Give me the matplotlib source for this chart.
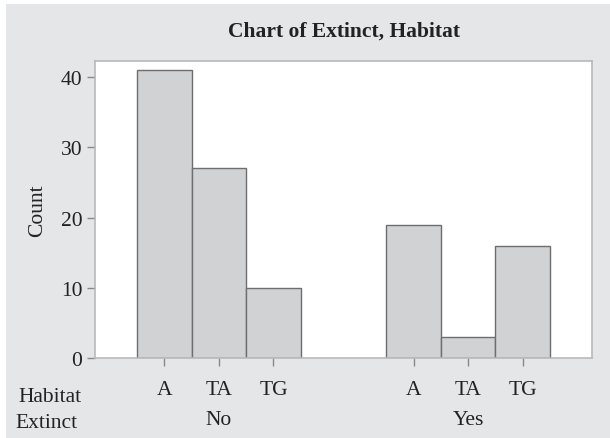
import numpy as np
import matplotlib.pyplot as plt
from matplotlib.patches import Rectangle
from matplotlib.transforms import blended_transform_factory

# data
extinct = ['No', 'Yes']
habitat = ['A', 'TA', 'TG']
counts_no = [41, 27, 10]
counts_yes = [19, 3, 16]

plt.rcParams['font.family'] = ['Liberation Serif', 'DejaVu Serif']

bg = '#e5e6e8'
bar_fill = '#d1d2d4'
bar_edge = '#6e6e70'
frame = '#b9b9bb'
fs = 15.5

fig = plt.figure(figsize=(6.10, 4.39), dpi=100, facecolor='white')
fig.patches.append(Rectangle((6 / 610, 0), 1, 1 - 5 / 439, transform=fig.transFigure,
                             facecolor=bg, edgecolor='none', zorder=-10))

ax = fig.add_axes([95 / 610, 1 - 359 / 439, (592 - 95) / 610, (359 - 62) / 439])
ax.set_facecolor('white')

gap = 4.57
pos_no = np.arange(len(habitat))
pos_yes = pos_no + gap
ax.bar(pos_no, counts_no, width=1.0, color=bar_fill, edgecolor=bar_edge, linewidth=1.0)
ax.bar(pos_yes, counts_yes, width=1.0, color=bar_fill, edgecolor=bar_edge, linewidth=1.0)

ax.set_xlim(-1.275, pos_yes[-1] + 1.275)
ax.set_ylim(0, 42.3)
ax.set_yticks([0, 10, 20, 30, 40])
ax.set_xticks(np.concatenate([pos_no, pos_yes]))
ax.set_xticklabels(habitat + habitat)

for s in ax.spines.values():
    s.set_color(frame)
    s.set_linewidth(1.2)

ax.tick_params(axis='both', colors='#888888', labelcolor='#222222', labelsize=fs,
               length=6, width=1)
ax.tick_params(axis='x', pad=10)
ax.tick_params(axis='y', pad=3)

ax.set_ylabel('Count', fontsize=fs, color='#222222', labelpad=10)
ax.set_title('Chart of Extinct, Habitat', fontsize=fs, fontweight='bold',
             color='#222222', pad=18)

# group labels
trans = blended_transform_factory(ax.transData, fig.transFigure)
ax.text(pos_no.mean(), 1 - 421 / 439, extinct[0], transform=trans, ha='center',
        va='center', fontsize=fs, color='#222222')
ax.text(pos_yes.mean(), 1 - 421 / 439, extinct[1], transform=trans, ha='center',
        va='center', fontsize=fs, color='#222222')
fig.text(50 / 610, 1 - 398 / 439, 'Habitat', ha='center', va='center',
         fontsize=fs, color='#222222')
fig.text(47 / 610, 1 - 424 / 439, 'Extinct', ha='center', va='center',
         fontsize=fs, color='#222222')

fig.savefig('out.png', dpi=100, facecolor=fig.get_facecolor())
